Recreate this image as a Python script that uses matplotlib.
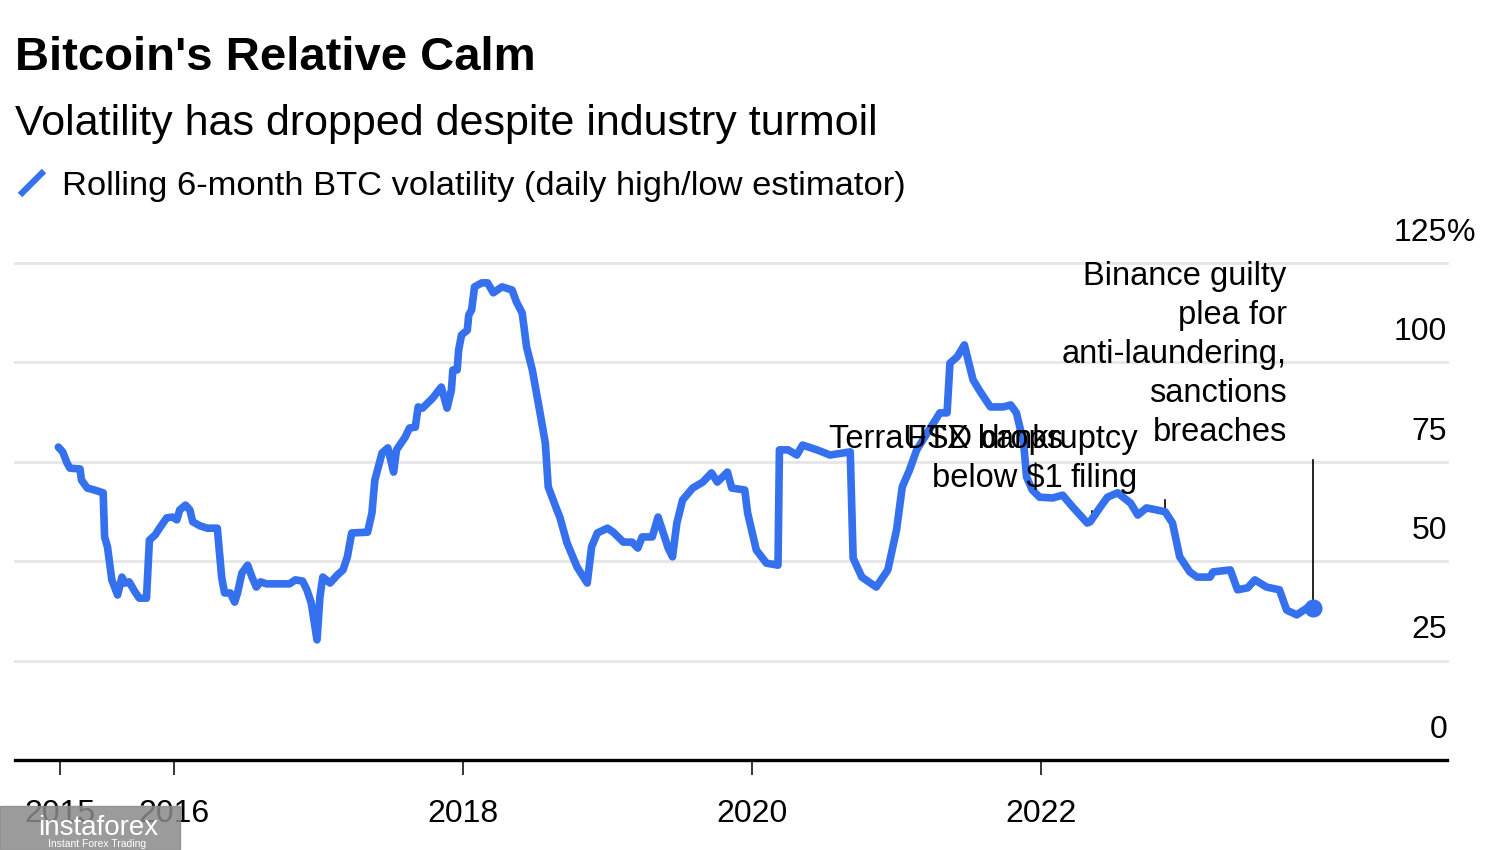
import matplotlib
matplotlib.use("Agg")
import matplotlib.pyplot as plt
import numpy as np
from matplotlib.lines import Line2D
from matplotlib.patches import Rectangle

# rolling 6-month volatility (decimal year, %)
years = [2015.20, 2015.23, 2015.26, 2015.28, 2015.35, 2015.36, 2015.40, 2015.45, 2015.51, 2015.52,
         2015.54, 2015.57, 2015.61, 2015.64, 2015.66, 2015.69, 2015.73, 2015.76, 2015.81, 2015.83,
         2015.87, 2015.90, 2015.95, 2015.99, 2016.02, 2016.04, 2016.08, 2016.11, 2016.13, 2016.18,
         2016.23, 2016.30, 2016.33, 2016.35, 2016.39, 2016.42, 2016.44, 2016.47, 2016.51, 2016.54,
         2016.57, 2016.60, 2016.64, 2016.80, 2016.84, 2016.89, 2016.92, 2016.95, 2016.99, 2017.01,
         2017.03, 2017.08, 2017.13, 2017.17, 2017.20, 2017.23, 2017.34, 2017.37, 2017.39, 2017.44,
         2017.48, 2017.52, 2017.54, 2017.60, 2017.63, 2017.67, 2017.69, 2017.72, 2017.79, 2017.85,
         2017.89, 2017.92, 2017.93, 2017.96, 2017.97, 2017.99, 2018.03, 2018.04, 2018.06, 2018.08,
         2018.13, 2018.17, 2018.21, 2018.27, 2018.34, 2018.37, 2018.41, 2018.44, 2018.48, 2018.53,
         2018.57, 2018.59, 2018.65, 2018.67, 2018.72, 2018.79, 2018.86, 2018.89, 2018.93, 2019.00,
         2019.04, 2019.11, 2019.17, 2019.21, 2019.24, 2019.31, 2019.35, 2019.38, 2019.42, 2019.45,
         2019.48, 2019.52, 2019.59, 2019.66, 2019.72, 2019.76, 2019.83, 2019.86, 2019.95, 2019.97,
         2020.03, 2020.10, 2020.18, 2020.19, 2020.25, 2020.31, 2020.35, 2020.45, 2020.54, 2020.68,
         2020.70, 2020.76, 2020.82, 2020.86, 2020.94, 2021.00, 2021.04, 2021.09, 2021.14, 2021.30,
         2021.35, 2021.37, 2021.42, 2021.47, 2021.49, 2021.53, 2021.58, 2021.65, 2021.74, 2021.79,
         2021.83, 2021.88, 2021.90, 2021.94, 2021.99, 2022.08, 2022.15, 2022.22, 2022.32, 2022.34,
         2022.41, 2022.46, 2022.53, 2022.62, 2022.67, 2022.73, 2022.80, 2022.86, 2022.91, 2022.96,
         2023.03, 2023.08, 2023.17, 2023.19, 2023.31, 2023.36, 2023.43, 2023.48, 2023.56, 2023.65,
         2023.70, 2023.77, 2023.84, 2023.88]
vol = [78.7, 77.5, 74.7, 73.4, 73.2, 70.4, 68.4, 67.9, 67.2, 56.1,
       53.6, 45.3, 41.5, 46.0, 44.5, 44.8, 42.3, 40.7, 40.7, 55.3,
       56.6, 58.3, 60.9, 61.1, 60.4, 62.9, 64.1, 62.9, 59.9, 58.9,
       58.3, 58.3, 46.0, 42.0, 42.0, 39.7, 42.0, 47.0, 49.0, 46.0,
       43.5, 44.8, 44.3, 44.3, 45.3, 45.0, 42.8, 39.5, 30.2, 41.0,
       46.0, 44.5, 46.5, 47.8, 51.1, 57.1, 57.3, 62.1, 70.4, 77.2,
       78.5, 72.4, 78.0, 81.2, 83.5, 83.7, 88.8, 88.5, 91.0, 93.8,
       88.5, 93.1, 98.1, 98.1, 103.1, 106.9, 108.1, 111.9, 113.2, 119.0,
       120.0, 120.0, 117.5, 119.0, 118.2, 115.2, 112.4, 103.9, 98.1, 88.0,
       79.7, 68.7, 62.9, 61.1, 54.6, 48.5, 44.5, 53.6, 57.1, 58.3,
       57.3, 54.8, 54.8, 53.3, 56.1, 56.1, 61.1, 57.8, 53.3, 51.1,
       59.6, 65.4, 68.4, 69.9, 72.2, 69.9, 72.4, 68.4, 67.9, 62.1,
       52.8, 49.5, 49.0, 78.0, 78.0, 76.7, 79.2, 78.0, 76.7, 77.5,
       50.8, 46.0, 44.5, 43.5, 47.8, 57.8, 68.7, 72.9, 78.0, 87.3,
       87.3, 99.8, 101.4, 104.4, 101.4, 95.6, 92.6, 88.8, 88.8, 89.3,
       87.3, 79.7, 71.2, 67.9, 66.1, 65.9, 66.6, 63.6, 59.6, 59.9,
       63.6, 66.1, 67.2, 64.6, 61.6, 63.4, 62.9, 62.4, 59.6, 51.1,
       47.3, 46.0, 46.0, 47.3, 47.8, 42.8, 43.3, 45.3, 43.5, 42.8,
       37.7, 36.5, 38.2, 38.2]

tick_pos = [2015.21, 2016, 2018, 2020, 2022]
tick_labels = ["2015", "2016", "2018", "2020", "2022"]
y_levels = [0, 25, 50, 75, 100, 125]

events = ["TerraUSD drops\nbelow $1", "FTX bankruptcy\nfiling",
          "Binance guilty\nplea for\nanti-laundering,\nsanctions\nbreaches"]
event_dates = [2022.35, 2022.86, 2023.88]
event_text_x = [2022.15, 2022.67, 2023.70]
event_text_y = [66.8, 66.8, 78.5]
event_line_top = [62.5, 65.5, 75.5]

blue = "#3571ee"

plt.rcParams["font.family"] = ["Liberation Sans", "DejaVu Sans"]

fig = plt.figure(figsize=(15, 8.5), dpi=100)
ax = fig.add_axes([0.01, 0.1059, 0.9547, 0.5847])

ax.plot(years, vol, color=blue, lw=5.5, solid_joinstyle="round", solid_capstyle="round", zorder=3)
ax.plot(years[-1], vol[-1], "o", color=blue, ms=12, zorder=4)

ax.set_xlim(2014.90, 2024.81)
ax.set_ylim(0, 125)
ax.set_yticks(y_levels)
ax.yaxis.grid(True, color="#e6e6e6", lw=2)
for gl in ax.get_ygridlines():
    gl.set_clip_on(False)
ax.tick_params(axis="y", left=False, labelleft=False)
ax.set_xticks(tick_pos)
ax.set_xticklabels(tick_labels, fontsize=23)
ax.tick_params(axis="x", length=11, width=1.1, pad=17, color="black")
for s in ["top", "left", "right"]:
    ax.spines[s].set_visible(False)
ax.spines["bottom"].set_linewidth(2.4)
ax.set_axisbelow(True)

# y labels on the right, above gridlines
for v in y_levels:
    ax.text(1.0, v + 7.6, str(v), transform=ax.get_yaxis_transform(),
            ha="right", va="center", fontsize=23)
ax.text(1.0, 125 + 7.6, "%", transform=ax.get_yaxis_transform(),
        ha="left", va="center", fontsize=23)

# event annotations
for name, d, tx, ty, top in zip(events, event_dates, event_text_x, event_text_y, event_line_top):
    yv = np.interp(d, years, vol)
    ax.plot([d, d], [yv, top], color="black", lw=1.2, zorder=2, clip_on=False)
    ax.text(tx, ty, name, ha="right", va="bottom", fontsize=23.5,
            linespacing=1.33, zorder=5, multialignment="right")

fig.text(0.01, 1 - 70 / 850, "Bitcoin's Relative Calm", fontsize=34,
         fontweight="bold", va="baseline")
fig.text(0.01, 1 - 135 / 850, "Volatility has dropped despite industry turmoil",
         fontsize=31, va="baseline")
fig.text(0.0413, 1 - 195 / 850, "Rolling 6-month BTC volatility (daily high/low estimator)",
         fontsize=24.8, va="baseline")
fig.add_artist(Line2D([20 / 1500, 44 / 1500], [1 - 195 / 850, 1 - 171 / 850],
                      color=blue, lw=4.5, solid_capstyle="butt"))

# watermark box
fig.add_artist(Rectangle((0, 0), 180 / 1500, 44 / 850, transform=fig.transFigure,
                         color="#8a8a8a", alpha=0.85, zorder=10))
fig.text(38 / 1500, 22 / 850, "instaforex", color="white", fontsize=20,
         va="center", zorder=11)
fig.text(48 / 1500, 6 / 850, "Instant Forex Trading", color="white", fontsize=7.5,
         va="center", zorder=11)

fig.savefig("out.png", dpi=100)
